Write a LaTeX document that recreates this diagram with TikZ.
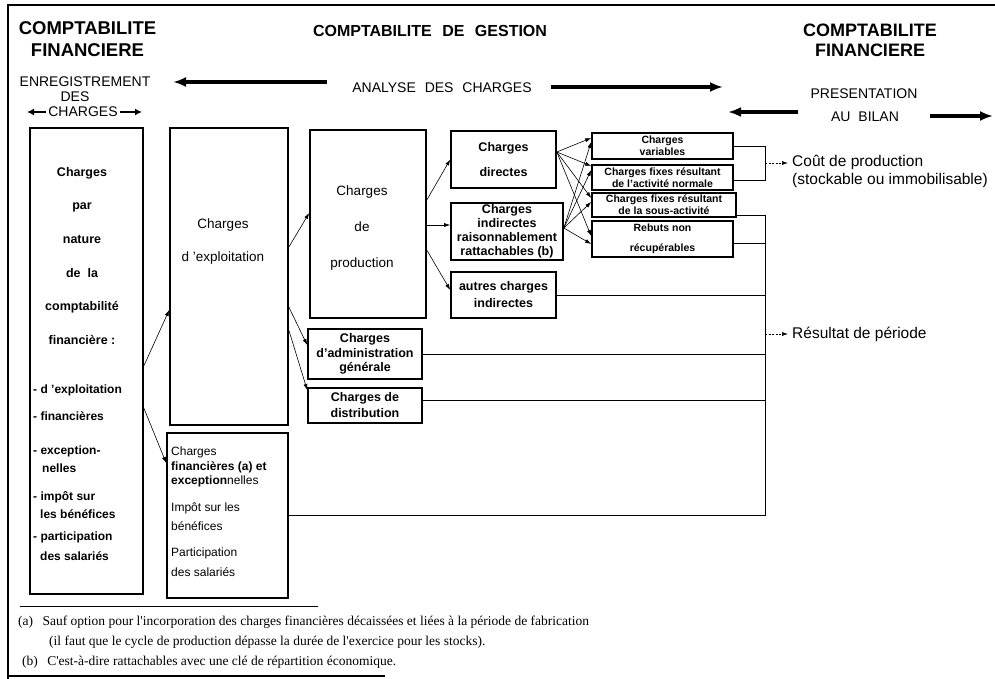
\documentclass[tikz,border=0pt]{standalone}
\usepackage{fontspec}
\setmainfont{Liberation Sans}
\newfontfamily\footfont{Liberation Serif}
\usetikzlibrary{arrows.meta}

\begin{document}
\begin{tikzpicture}
  [x=1pt,y=-1pt,every node/.style={inner sep=0pt},
   box/.style={draw,line width=1.6pt,align=center},
   small/.style={box,font=\fontsize{10.5}{12}\selectfont\bfseries},
   sz/.style 2 args={minimum width=#1pt,minimum height=#2pt},
   bigarr/.style={line width=3.5pt,-{Latex[length=13pt,width=10pt]}},
   midarr/.style={line width=2.5pt,-{Latex[length=7pt,width=7pt]}},
   arr/.style={line width=0.6pt,-{Latex[length=6pt,width=4pt]}},
   dasharr/.style={line width=0.6pt,dash pattern=on 2pt off 1.5pt,-{Latex[length=6pt,width=4pt]}},
   wire/.style={line width=0.7pt},
   ttl/.style={font=\fontsize{14}{16}\selectfont},
   foot/.style={anchor=base west,font=\footfont\fontsize{13.5}{15}\selectfont}]
  \useasboundingbox (0,0) rectangle (995,679);

  \draw[line width=2.5pt] (995,5) -- (8,5) -- (8,679);
  \draw[line width=1.2pt] (8,676) -- (385,676);

  \node[align=center,font=\fontsize{18.5}{22}\selectfont\bfseries] (cfl) at (87.5,39.5) {COMPTABILITE\\FINANCIERE};
  \node[font=\fontsize{16}{19}\selectfont\bfseries] (cdg) at (430,31) {COMPTABILITE\hspace{6pt} DE\hspace{6pt} GESTION};
  \node[align=center,font=\fontsize{18}{20}\selectfont\bfseries] (cfr) at (870,40) {COMPTABILITE\\FINANCIERE};
  \node[ttl] (enr) at (85,82) {ENREGISTREMENT};
  \node[ttl] (des) at (75,97) {DES};
  \node[ttl] (chg) at (83,112) {CHARGES};
  \node[ttl] (ana) at (442,88) {ANALYSE\hspace{5pt} DES\hspace{5pt} CHARGES};
  \node[ttl] (pres) at (864,94) {PRESENTATION};
  \node[ttl] (bil) at (865,117) {AU\hspace{4pt} BILAN};

  \coordinate (la1) at (327,82);  \coordinate (la2) at (173,82);
  \coordinate (ra1) at (551,87);  \coordinate (ra2) at (723,87);
  \coordinate (pl1) at (798,112); \coordinate (pl2) at (728,112);
  \coordinate (pr1) at (930,116); \coordinate (pr2) at (993,116);
  \coordinate (cl) at (27,112);   \coordinate (cr) at (142,112);
  \draw[bigarr] (la1) -- (la2);
  \draw[bigarr] (ra1) -- (ra2);
  \draw[bigarr] (pl1) -- (pl2);
  \draw[bigarr] (pr1) -- (pr2);
  \draw[midarr] ([xshift=-2pt]chg.west) -- (cl);
  \draw[midarr] ([xshift=2pt]chg.east) -- (cr);

  \node[box,sz={113}{466}] (nat) at (86.5,361) {};
  \node[box,sz={118}{297}] (expl) at (229,276.5) {};
  \node[box,sz={121}{165}] (fin) at (227.5,515.5) {};
  \node[box,sz={116}{188}] (prod) at (368,224) {};
  \node[box,sz={105}{57},font=\fontsize{12.5}{25}\selectfont\bfseries] (dir) at (503.5,159.5) {Charges\\directes};
  \node[box,sz={112}{57},font=\fontsize{12.5}{14}\selectfont\bfseries] (ind) at (507,231.5) {Charges\\indirectes\\raisonnablement\\rattachables (b)};
  \node[box,sz={105}{46},font=\fontsize{12.5}{17}\selectfont\bfseries] (aut) at (503.5,295) {autres charges\\indirectes};
  \node[box,sz={114}{50},font=\fontsize{12.5}{14.5}\selectfont\bfseries] (adm) at (365,354) {Charges\\d'administration\\générale};
  \node[box,sz={114}{35},font=\fontsize{12.5}{16}\selectfont\bfseries] (dist) at (365,405.5) {Charges de\\distribution};
  \node[small,sz={141}{26}] (var) at (662.5,146) {Charges\\variables};
  \node[small,sz={141}{25}] (fnor) at (662.5,177.5) {Charges fixes résultant\\de l'activité normale};
  \node[small,sz={144}{24}] (fsous) at (664,205) {Charges fixes résultant\\de la sous-activité};
  \node[small,sz={141}{36}] (reb) at (662.5,239) {Rebuts non\\[8pt]récupérables};

  \node[anchor=north,align=center,font=\fontsize{12.5}{33.6}\selectfont\bfseries] (natt) at (82,167) {Charges\\par\\nature\\de~~la\\comptabilité\\financière :};
  \node[anchor=north west,align=left,font=\fontsize{12}{18}\selectfont\bfseries] (natl) at (33,385) {- d 'exploitation\\[9pt]- financières\\[16pt]- exception-\\\hspace*{9pt}nelles\\[10pt]- impôt sur\\\hspace*{7pt}les bénéfices\\[4pt]- participation\\[2pt]\hspace*{7pt}des salariés};
  \node[align=center,font=\fontsize{13.5}{33}\selectfont] (explt) at (223,242) {Charges\\d 'exploitation};
  \node[anchor=north west,align=left,font=\fontsize{12}{14.5}\selectfont] (fint) at (171,447) {Charges\\\textbf{financières (a) et}\\\textbf{exception}nelles\\[12.5pt]Impôt sur les\\[4.5pt]bénéfices\\[11.5pt]Participation\\[5.5pt]des salariés};
  \node[align=center,font=\fontsize{13.5}{36}\selectfont] (prodt) at (362,228) {Charges\\de\\production};

  \draw[arr] ([yshift=-5pt]nat.east) -- ([yshift=-33.5pt]expl.west);
  \draw[arr] ([yshift=-47pt]nat.east) -- ([yshift=52.5pt]fin.west);
  \draw[arr] ([yshift=29.5pt]expl.east) -- ([yshift=11pt]prod.west);
  \draw[arr] ([yshift=-30.5pt]expl.east) -- ([yshift=9pt]adm.west);
  \draw[arr] ([yshift=-53.5pt]expl.east) -- ([yshift=15.5pt]dist.west);
  \draw[arr] ([yshift=24pt]prod.east) -- (dir.west);
  \draw[arr] ([yshift=-1pt]prod.east) -- ([yshift=6.5pt]ind.west);
  \draw[arr] ([yshift=-26pt]prod.east) -- ([yshift=5pt]aut.west);

  \foreach \from/\fy/\to/\ty in {dir/7.5/var/8,dir/7.5/fnor/11.5,dir/7.5/fsous/7,dir/7.5/reb/3,
                                 ind/3.5/var/4,ind/3.5/fnor/7.5,ind/3.5/fsous/3,ind/3.5/reb/-5}
    \draw[arr] ([yshift=\fy pt]\from.east) -- ([yshift=\ty pt]\to.west);

  \coordinate (bkc) at (765,163);
  \coordinate (rv) at (765,515.5);
  \coordinate (rm) at (765,334);
  \node[anchor=west,align=left,font=\fontsize{15.5}{18}\selectfont] (cout) at (792,171) {Coût de production\\(stockable ou immobilisable)};
  \node[anchor=west,font=\fontsize{15.5}{18}\selectfont] (res) at (792,334) {Résultat de période};

  \draw[wire] (var.east) -- (var.east -| bkc) -- ([yshift=-2.5pt]fnor.east -| bkc) -- ([yshift=-2.5pt]fnor.east);
  \draw[dasharr] (bkc) -- ([xshift=-4pt]cout.west |- bkc);
  \draw[wire] ([yshift=-10pt]fsous.east) -| (rv) -- (fin.east);
  \foreach \n/\s in {reb/-4,aut/0,adm/0,dist/5.5}
    \draw[wire] ([yshift=\s pt]\n.east) -- ([yshift=\s pt]\n.east -| rv);
  \draw[dasharr] (rm) -- ([xshift=-4pt]res.west);

  \draw[line width=0.8pt] (20,606) -- (318,606);
  \node[foot] (fna) at (18,625) {(a)\hspace{6pt} Sauf option pour l'incorporation des charges financières décaissées et liées à la période de fabrication};
  \node[foot] (fnc) at (49,645) {(il faut que le cycle de production dépasse la durée de l'exercice pour les stocks).};
  \node[foot] (fnb) at (22,665) {(b)\hspace{6pt} C'est-à-dire rattachables avec une clé de répartition économique.};
\end{tikzpicture}
\end{document}
